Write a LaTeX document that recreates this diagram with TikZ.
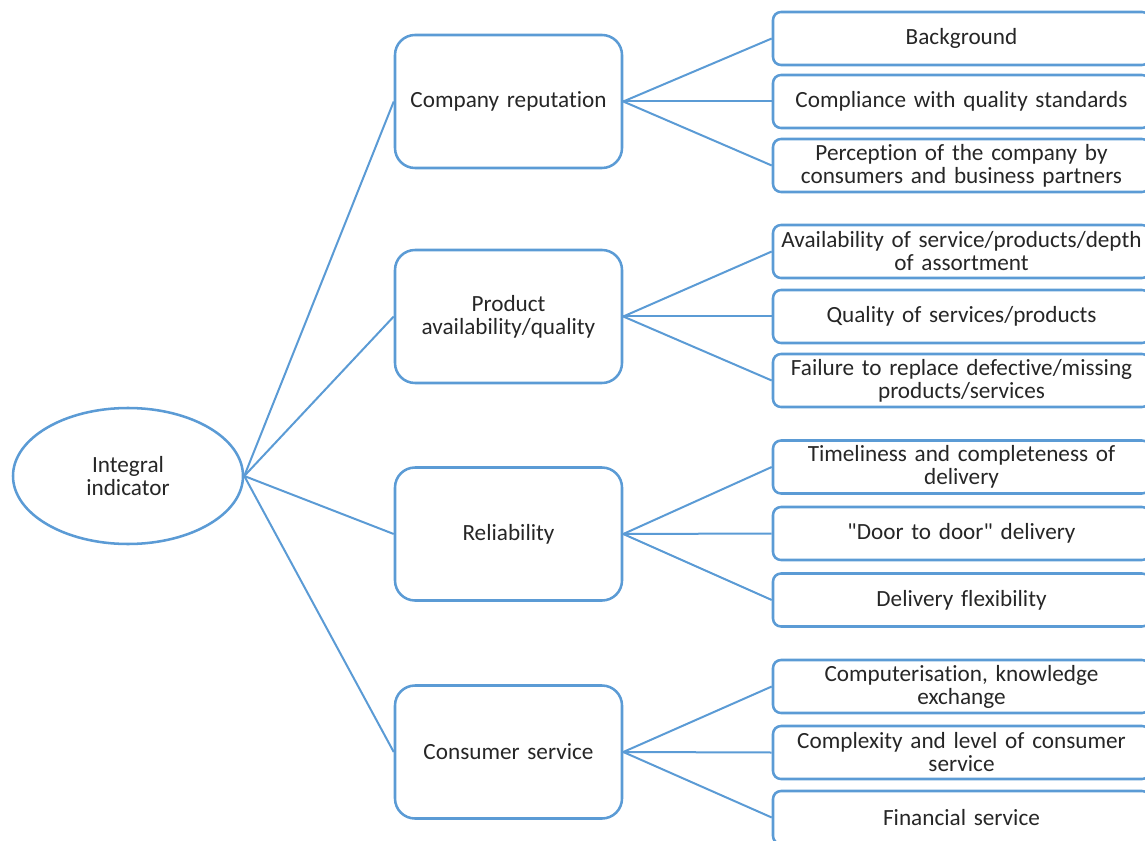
\documentclass[tikz,border=0pt]{standalone}
\usepackage{fontspec}
\setmainfont{Carlito}[Ligatures={TeXOff,NoCommon,NoContextual,NoRequired}]
\usepackage{tikz}
\usetikzlibrary{shapes.geometric}
\definecolor{officeblue}{HTML}{5B9BD5}
\definecolor{txt}{HTML}{262626}
\tikzstyle{tree}=[x=0.75pt, y=-0.75pt, draw=officeblue, text=txt, font=\fontsize{17.4}{17.25}\selectfont]
\tikzstyle{root}=[ellipse, draw=officeblue, line width=1.9pt, inner sep=0pt, minimum width=172.5pt, minimum height=102pt, align=center]
\tikzstyle{factor}=[rectangle, rounded corners=15pt, draw=officeblue, line width=1.9pt, inner sep=2pt, minimum width=170.25pt, minimum height=99.75pt, text width=160pt, align=center]
\tikzstyle{leaf}=[rectangle, rounded corners=6pt, draw=officeblue, line width=1.9pt, inner sep=1pt, minimum width=282.75pt, minimum height=39.75pt, text width=276pt, align=center]
\tikzstyle{branch}=[-, draw=officeblue, line width=1.5pt]

\begin{document}
\begin{tikzpicture}[tree]
	\clip (0,0) rectangle (1145,841);
	\useasboundingbox (0,0) rectangle (1145,841);

	%The root
	\draw (128,476) node[root] (ind) {Integral\\indicator};

	%The factors
	\draw (508.5,101.5) node[factor] (rep) {Company reputation};
	\draw (508.5,316.5) node[factor] (avail) {Product\\availability/quality};
	\draw (508.5,534) node[factor] (rel) {Reliability};
	\draw (508.5,752) node[factor] (serv) {Consumer service};

	%The indicators of each factor
	\draw (961.5,38.5) node[leaf] (v1) {Background};
	\draw (961.5,101.5) node[leaf] (v2) {Compliance with quality standards};
	\draw (961.5,165.5) node[leaf] (v3) {Perception of the company by\\consumers and business partners};

	\draw (961.5,251.5) node[leaf] (v4) {Availability of service/products/depth\\of assortment};
	\draw (961.5,316.5) node[leaf] (v5) {Quality of services/products};
	\draw (961.5,380.5) node[leaf] (v6) {Failure to replace defective/missing\\products/services};

	\draw (961.5,467) node[leaf] (v7) {Timeliness and completeness of\\delivery};
	\draw (961.5,533.5) node[leaf] (v8) {"Door to door" delivery};
	\draw (961.5,600) node[leaf] (v9) {Delivery flexibility};

	\draw (961.5,686.5) node[leaf] (v10) {Computerisation, knowledge\\exchange};
	\draw (961.5,752.5) node[leaf] (v11) {Complexity and level of consumer\\service};
	\draw (961.5,817.5) node[leaf] (v12) {Financial service};

	%The branches
	\foreach \f in {rep, avail, rel, serv}
		\draw[branch] (ind.east) -- (\f.west);

	\draw[branch] (rep.east) -- (v1.west);
	\draw[branch] (rep.east) -- (v2.west);
	\draw[branch] (rep.east) -- (v3.west);
	\draw[branch] (avail.east) -- (v4.west);
	\draw[branch] (avail.east) -- (v5.west);
	\draw[branch] (avail.east) -- (v6.west);
	\draw[branch] (rel.east) -- (v7.west);
	\draw[branch] (rel.east) -- (v8.west);
	\draw[branch] (rel.east) -- (v9.west);
	\draw[branch] (serv.east) -- (v10.west);
	\draw[branch] (serv.east) -- (v11.west);
	\draw[branch] (serv.east) -- (v12.west);
\end{tikzpicture}
\end{document}
